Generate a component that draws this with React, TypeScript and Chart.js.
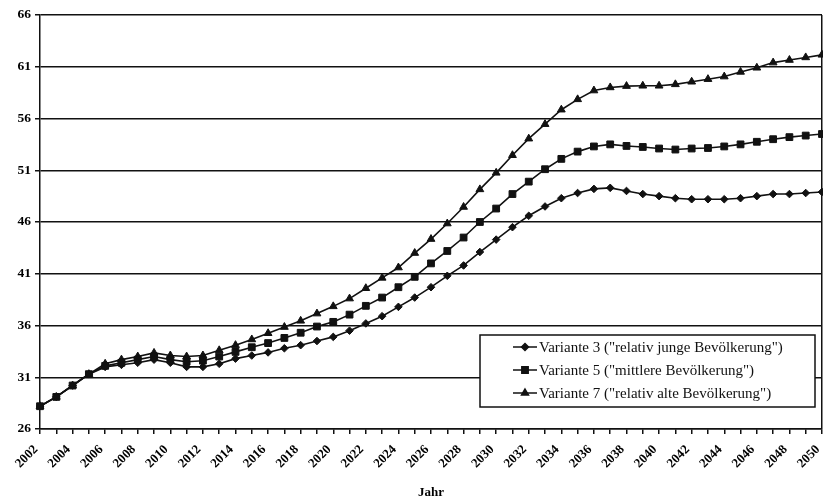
import React, { useEffect, useRef } from 'react';
import { Chart, registerables } from 'chart.js';
import { drawPoint } from 'chart.js/helpers';

Chart.register(...registerables);

const years = [
  2002, 2003, 2004, 2005, 2006, 2007, 2008, 2009, 2010, 2011,
  2012, 2013, 2014, 2015, 2016, 2017, 2018, 2019, 2020, 2021,
  2022, 2023, 2024, 2025, 2026, 2027, 2028, 2029, 2030, 2031,
  2032, 2033, 2034, 2035, 2036, 2037, 2038, 2039, 2040, 2041,
  2042, 2043, 2044, 2045, 2046, 2047, 2048, 2049, 2050,
];

const variante3 = [
  28.2, 29.1, 30.2, 31.3, 32.0, 32.2, 32.4, 32.7, 32.4, 32.0,
  32.0, 32.3, 32.8, 33.1, 33.4, 33.8, 34.1, 34.5, 34.9, 35.5,
  36.2, 36.9, 37.8, 38.7, 39.7, 40.8, 41.8, 43.1, 44.3, 45.5,
  46.6, 47.5, 48.3, 48.8, 49.2, 49.3, 49.0, 48.7, 48.5, 48.3,
  48.2, 48.2, 48.2, 48.3, 48.5, 48.7, 48.7, 48.8, 48.9,
];

const variante5 = [
  28.2, 29.1, 30.2, 31.3, 32.1, 32.4, 32.7, 33.0, 32.7, 32.5,
  32.6, 33.0, 33.45, 33.9, 34.3, 34.8, 35.3, 35.9, 36.35, 37.05,
  37.9, 38.7, 39.7, 40.7, 42.0, 43.2, 44.5, 46.0, 47.3, 48.7,
  49.9, 51.1, 52.1, 52.8, 53.3, 53.5, 53.35, 53.25, 53.1, 53.0,
  53.1, 53.15, 53.3, 53.5, 53.75, 54.0, 54.2, 54.35, 54.5,
];

const variante7 = [
  28.2, 29.1, 30.2, 31.3, 32.3, 32.7, 33.0, 33.35, 33.1, 33.0,
  33.1, 33.6, 34.1, 34.65, 35.25, 35.85, 36.45, 37.15, 37.85, 38.6,
  39.6, 40.6, 41.6, 43.0, 44.35, 45.85, 47.45, 49.15, 50.75, 52.45,
  54.05, 55.45, 56.85, 57.85, 58.7, 59.0, 59.13, 59.16, 59.16, 59.3,
  59.55, 59.8, 60.05, 60.5, 60.9, 61.4, 61.65, 61.9, 62.15,
];

const seriesLabels = [
  'Variante 3 ("relativ junge Bevölkerung")',
  'Variante 5 ("mittlere Bevölkerung")',
  'Variante 7 ("relativ alte Bevölkerung")',
];

const yMin = 26;
const yMax = 66;
const yStep = 5;
const xTitle = 'Jahr';

const FONT = '"Liberation Serif", "Times New Roman", serif';

const legendPlugin = {
  id: 'boxLegend',
  afterDraw(chart: any) {
    const ctx = chart.ctx;
    const left = 480;
    const top = 335;
    const w = 335;
    const h = 72;
    ctx.save();
    ctx.fillStyle = '#fff';
    ctx.fillRect(left, top, w, h);
    ctx.strokeStyle = '#111';
    ctx.lineWidth = 1.5;
    ctx.strokeRect(left, top, w, h);
    const rows = [347, 370, 393];
    chart.data.datasets.forEach((ds: any, i: number) => {
      const y = rows[i];
      ctx.strokeStyle = '#111';
      ctx.lineWidth = 1.5;
      ctx.beginPath();
      ctx.moveTo(513, y);
      ctx.lineTo(537, y);
      ctx.stroke();
      ctx.fillStyle = '#111';
      drawPoint(ctx, {
        pointStyle: ds.pointStyle,
        radius: ds.legendRadius,
        rotation: 0,
        borderWidth: 1,
      } as any, 525, y);
      ctx.fillStyle = '#111';
      ctx.font = `15px ${FONT}`;
      ctx.textAlign = 'left';
      ctx.textBaseline = 'middle';
      ctx.fillText(ds.label, 539, y + 1);
    });
    ctx.restore();
  },
};

export default function App() {
  const ref = useRef<HTMLCanvasElement | null>(null);

  useEffect(() => {
    if (!ref.current) return;
    Chart.defaults.font.family = FONT;
    Chart.defaults.color = '#000';
    const mk = (vals: number[]) => years.map((x, i) => ({ x, y: vals[i] }));
    const base = {
      borderColor: '#111',
      backgroundColor: '#111',
      pointBackgroundColor: '#111',
      pointBorderColor: '#111',
      borderWidth: 1.6,
      pointBorderWidth: 1,
      tension: 0,
      clip: false as any,
    };
    const chart = new Chart(ref.current, {
      type: 'line',
      data: {
        datasets: [
          { ...base, label: seriesLabels[0], data: mk(variante3), pointStyle: 'rectRot', pointRadius: 3.8, legendRadius: 3.5 } as any,
          { ...base, label: seriesLabels[1], data: mk(variante5), pointStyle: 'rect', pointRadius: 4.8, legendRadius: 4.5 } as any,
          { ...base, label: seriesLabels[2], data: mk(variante7), pointStyle: 'triangle', pointRadius: 4.5, legendRadius: 4 } as any,
        ],
      },
      options: {
        animation: false,
        responsive: false,
        layout: { autoPadding: false, padding: { top: 15, right: 1, left: 0, bottom: 0 } },
        plugins: {
          legend: { display: false },
          tooltip: { enabled: false },
        },
        scales: {
          x: {
            type: 'linear',
            min: years[0],
            max: years[years.length - 1],
            ticks: {
              stepSize: 1,
              autoSkip: false,
              minRotation: 45,
              maxRotation: 45,
              padding: 8,
              labelOffset: -4,
              color: '#000',
              font: { size: 13, weight: 'bold', family: FONT },
              callback: (v: any) => (Number(v) % 2 === 0 ? String(v) : ''),
            },
            grid: {
              drawOnChartArea: true,
              color: (c: any) => (c.tick && c.tick.value === years[years.length - 1] ? '#111' : 'rgba(0,0,0,0)'),
              lineWidth: 1.5,
              tickColor: '#111',
              tickLength: 5,
            },
            border: { color: '#111', width: 1.5 },
            title: {
              display: true,
              text: xTitle,
              color: '#000',
              font: { size: 13, weight: 'bold', family: FONT },
              padding: { top: 6, bottom: 0 },
            },
            afterFit: (s: any) => {
              s.height = 71;
              s.paddingRight = 0;
              s.paddingLeft = 0;
            },
          },
          y: {
            min: yMin,
            max: yMax,
            ticks: {
              stepSize: yStep,
              padding: 4,
              color: '#000',
              font: { size: 13.5, weight: 'bold', family: FONT },
            },
            grid: {
              color: '#111',
              lineWidth: 1.5,
              tickColor: '#111',
              tickLength: 5,
            },
            border: { color: '#111', width: 1.5 },
            afterFit: (s: any) => {
              s.width = 40;
            },
          },
        },
      },
      plugins: [legendPlugin],
    });
    return () => chart.destroy();
  }, []);

  return (
    <div style={{ position: 'fixed', left: 0, top: 0, width: 823, height: 500, background: '#fff' }}>
      <canvas ref={ref} width={823} height={500} />
    </div>
  );
}
